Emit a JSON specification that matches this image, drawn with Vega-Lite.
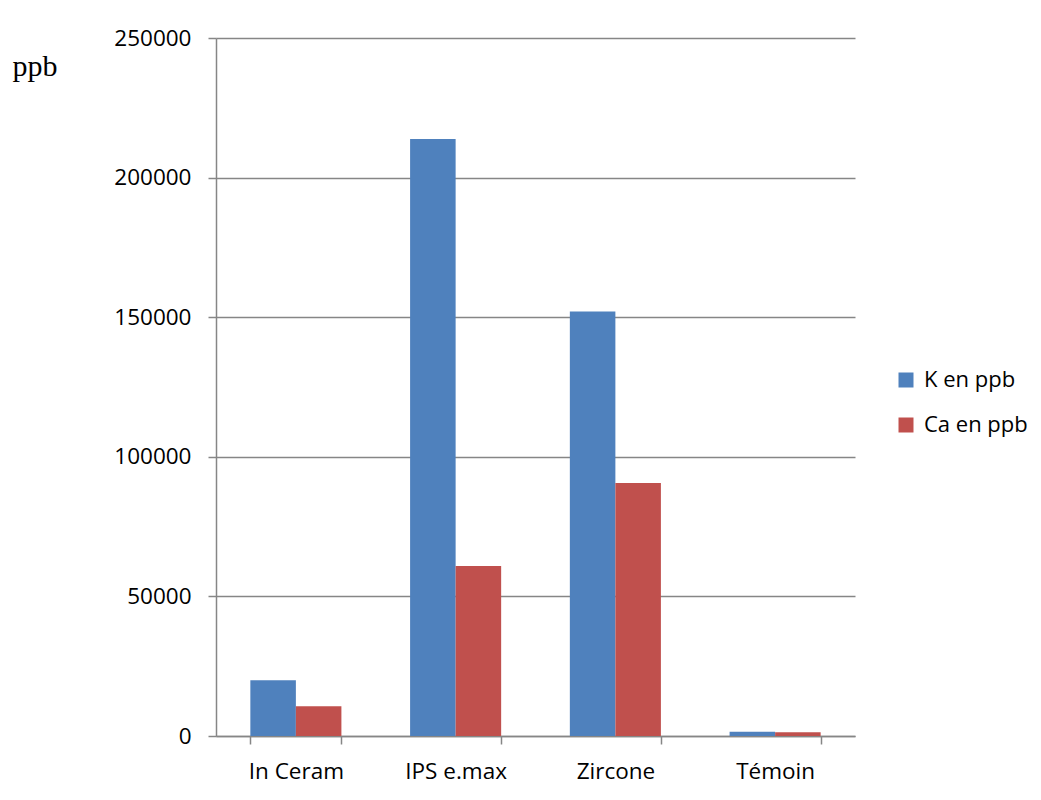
{
  "$schema": "https://vega.github.io/schema/vega-lite/v6.json",
  "autosize": {"type": "none"},
  "padding": {"left": 216, "top": 38, "right": 186, "bottom": 64},
  "width": 639,
  "height": 698,
  "background": "white",
  "data": {
    "values": [
      {"cat": "In Ceram", "serie": "K en ppb", "val": 20000},
      {"cat": "In Ceram", "serie": "Ca en ppb", "val": 10700},
      {"cat": "IPS e.max", "serie": "K en ppb", "val": 213800},
      {"cat": "IPS e.max", "serie": "Ca en ppb", "val": 60900},
      {"cat": "Zircone", "serie": "K en ppb", "val": 152000},
      {"cat": "Zircone", "serie": "Ca en ppb", "val": 90600},
      {"cat": "Témoin", "serie": "K en ppb", "val": 1500},
      {"cat": "Témoin", "serie": "Ca en ppb", "val": 1300}
    ]
  },
  "mark": {"type": "bar"},
  "encoding": {
    "x": {
      "field": "cat", "type": "nominal", "sort": ["In Ceram", "IPS e.max", "Zircone", "Témoin"],
      "scale": {"paddingInner": 0.43, "paddingOuter": 0.215},
      "axis": {
        "title": null, "labelAngle": 0, "tickBand": "extent", "tickSize": 8,
        "labelPadding": 16, "labelFontSize": 22.5, "labelColor": "black",
        "domainColor": "#868686", "tickColor": "#868686", "domainWidth": 1.5, "tickWidth": 1.5
      }
    },
    "xOffset": {"field": "serie", "type": "nominal", "sort": ["K en ppb", "Ca en ppb"], "scale": {"paddingInner": 0}},
    "y": {
      "field": "val", "type": "quantitative",
      "scale": {"domain": [0, 250000], "nice": false},
      "axis": {
        "values": [0, 50000, 100000, 150000, 200000, 250000], "format": "d",
        "tickSize": 8, "labelPadding": 17, "labelFontSize": 22.5, "labelColor": "black",
        "domainColor": "#868686", "tickColor": "#868686", "gridColor": "#868686",
        "domainWidth": 1.5, "tickWidth": 1.5, "gridWidth": 1.5,
        "title": "ppb", "titleAngle": 0, "titleAlign": "left", "titleBaseline": "alphabetic",
        "titleX": -204, "titleY": 37, "titleFont": "Liberation Serif", "titleFontSize": 30, "titleFontWeight": "normal", "titleColor": "black"
      }
    },
    "color": {
      "field": "serie", "type": "nominal", "sort": ["K en ppb", "Ca en ppb"],
      "scale": {"domain": ["K en ppb", "Ca en ppb"], "range": ["#4F81BD", "#C0504D"]},
      "legend": {
        "title": null, "orient": "none", "legendX": 679, "legendY": 331,
        "symbolType": "square", "symbolSize": 225, "symbolStrokeWidth": 0,
        "labelFontSize": 22, "labelColor": "black", "rowPadding": 23, "labelOffset": 7
      }
    }
  },
  "config": {
    "font": "Open Sans",
    "view": {"stroke": null}
  }
}
